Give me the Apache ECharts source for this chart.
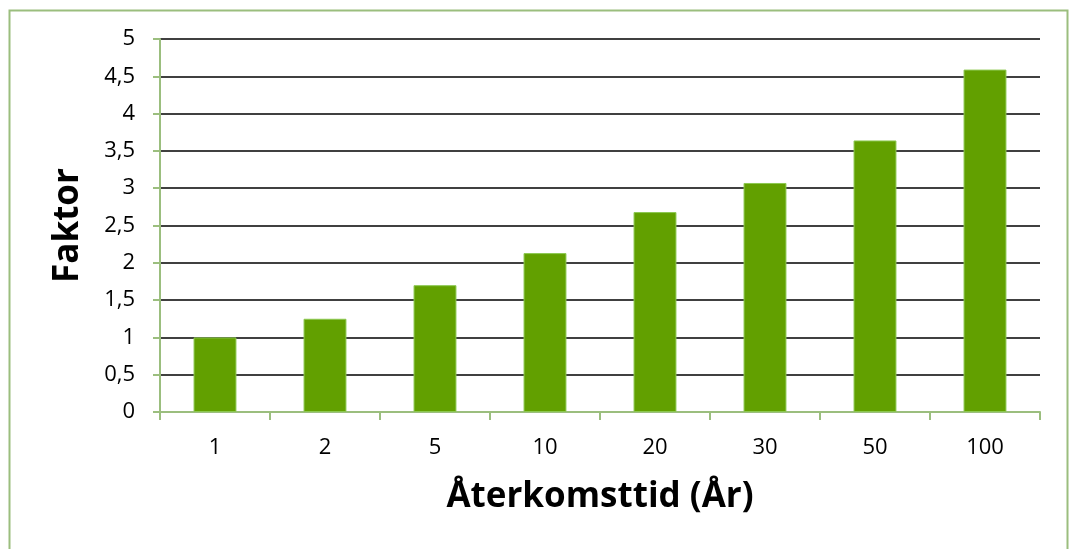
<!DOCTYPE html>
<html>
<head>
<meta charset="utf-8">
<script src="https://cdn.jsdelivr.net/npm/echarts@6/dist/echarts.min.js"></script>
<style>
html,body{margin:0;padding:0;background:#fff;}
#chart{width:1070px;height:549px;}
</style>
</head>
<body>
<div id="chart"></div>
<script>
const categories = ['1', '2', '5', '10', '20', '30', '50', '100'];
const factorValues = [1.0, 1.25, 1.7, 2.13, 2.68, 3.07, 3.64, 4.59];
const xAxisTitle = 'Återkomsttid (År)';
const yAxisTitle = 'Faktor';

const chart = echarts.init(document.getElementById('chart'));
const green = '#9BBE7E';
chart.setOption({
  backgroundColor: '#ffffff',
  animation: false,
  graphic: [{
    type: 'rect',
    shape: { x: 9.5, y: 10.5, width: 1058, height: 560 },
    style: { fill: 'none', stroke: '#9BBE7E', lineWidth: 2 },
    silent: true
  }],
  grid: { left: 160, right: 30, top: 39, bottom: 137 },
  xAxis: {
    type: 'category',
    data: categories,
    name: xAxisTitle,
    nameLocation: 'middle',
    nameGap: 68,
    nameTextStyle: { fontFamily: 'Open Sans', fontWeight: 'bold', fontSize: 35, color: '#000' },
    axisLine: { lineStyle: { color: green, width: 2 } },
    axisTick: { show: true, alignWithLabel: false, length: 8, lineStyle: { color: green, width: 2 } },
    axisLabel: { margin: 25, fontFamily: 'Open Sans', fontSize: 22, color: '#000' },
    splitLine: { show: false }
  },
  yAxis: {
    type: 'value',
    min: 0, max: 5, interval: 0.5,
    name: yAxisTitle,
    nameLocation: 'middle',
    nameGap: 74,
    nameRotate: 90,
    nameTextStyle: { fontFamily: 'Open Sans', fontWeight: 'bold', fontSize: 35, color: '#000' },
    axisLine: { show: true, lineStyle: { color: green, width: 2 } },
    axisTick: { show: true, length: 7, lineStyle: { color: green, width: 2 } },
    axisLabel: {
      margin: 25, fontFamily: 'Open Sans', fontSize: 22, color: '#000',
      formatter: v => String(v).replace('.', ',')
    },
    splitLine: { show: true, lineStyle: { color: '#000', width: 1.6 } }
  },
  series: [{
    type: 'bar',
    data: factorValues,
    barWidth: '39%',
    itemStyle: { color: '#62A000', borderColor: '#8CC850', borderWidth: 1 },
    z: 3
  }]
});
</script>
</body>
</html>
